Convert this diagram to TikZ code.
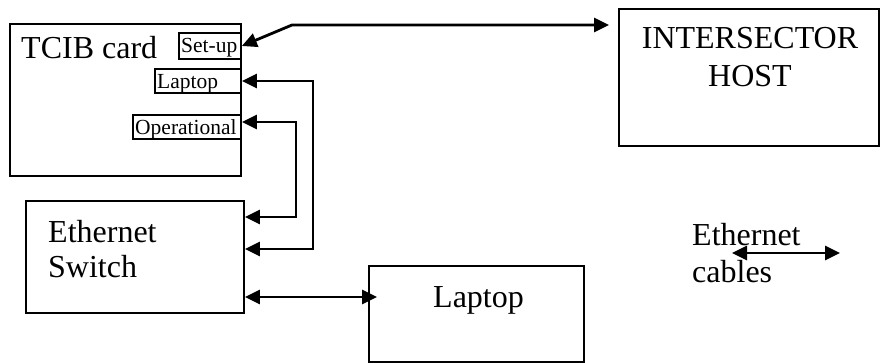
\documentclass[tikz,border=0pt]{standalone}
\usepackage{fontspec}
\setmainfont{Liberation Serif}
\usetikzlibrary{arrows.meta}
\tikzset{
  box/.style={draw, line width=1.7pt, inner sep=0pt, fill=none},
  big/.style={font=\fontsize{32}{36}\selectfont, inner sep=0pt, anchor=base west},
  small/.style={font=\fontsize{21.5}{24}\selectfont, inner sep=0pt, anchor=base west},
  wire/.style={line width=2.8pt, {Triangle[length=15pt,width=14pt]}-{Triangle[length=15pt,width=14pt]}}
}
\begin{document}
\begin{tikzpicture}[x=1pt,y=-1pt]
\useasboundingbox (0,0) rectangle (885,363);
% boxes
\node[box, minimum width=231pt, minimum height=152pt] (tcib) at (125.5,100) {};
\node[box, minimum width=62pt, minimum height=26pt] (setup) at (210,46) {};
\node[box, minimum width=86pt, minimum height=24pt] (lport) at (198,81) {};
\node[box, minimum width=108pt, minimum height=24pt] (oper) at (187,127) {};
\node[box, minimum width=218pt, minimum height=112pt] (switch) at (135,257) {};
\node[box, minimum width=215pt, minimum height=96pt] (laptop) at (476.5,314) {};
\node[box, minimum width=260pt, minimum height=137pt] (host) at (749,77.5) {};
% texts
\node[big] (tcibt) at (21,59) {TCIB card};
\node[small] (setupt) at (181,53) {Set-up};
\node[small] (lportt) at (157,89) {Laptop};
\node[small] (opert) at (135,135) {Operational};
\node[big] (sw1) at (48,242) {Ethernet};
\node[big] (sw2) at (48,277) {Switch};
\node[big, anchor=base] (h1) at (750,49) {INTERSECTOR};
\node[big, anchor=base] (h2) at (750,87) {HOST};
\node[big] (lapt) at (433,307) {Laptop};
\node[big] (leg1) at (692,245) {Ethernet};
\node[big] (leg2) at (692,282) {cables};
% connectors
\coordinate (b0) at (292,25);
\draw[wire, shorten >=9pt] (setup.east) -- (b0) -- (b0 -| host.west);
\coordinate (b1) at (313,81);
\coordinate (b2) at (313,249);
\draw[wire] (lport.east) -- (b1) -- (b2) -- (b2 -| switch.east);
\coordinate (c1) at (296,122);
\coordinate (c2) at (296,217);
\draw[wire] (c1 -| oper.east) -- (c1) -- (c2) -- (c2 -| switch.east);
\coordinate (d1) at (300,297);
\draw[wire, shorten >=-9pt] (d1 -| switch.east) -- (d1 -| laptop.west);
\coordinate (e1) at (732,253);
\coordinate (e2) at (840,253);
\draw[wire] (e1) -- (e2);
\end{tikzpicture}
\end{document}
